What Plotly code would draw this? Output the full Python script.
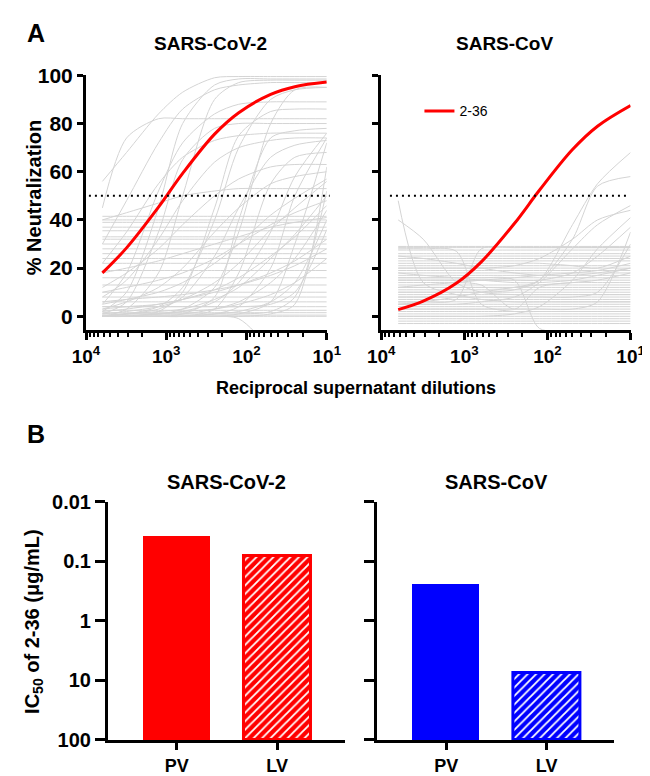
import plotly.graph_objects as go

# ---------------- data ----------------
# dilution points (reciprocal supernatant dilution) at which curve values were read
dilutions = [6250, 3125, 1250, 625, 250, 125, 50, 25, 10]

# 2-36 fitted curve (% neutralization)
red_cov2 = [18, 28.4, 45.3, 59.3, 75.6, 84.5, 92.1, 95.3, 97.2]
red_cov = [2.8, 6.3, 13.7, 22.6, 38.5, 52.3, 69.2, 78.9, 87.5]

# other supernatants (% neutralization), SARS-CoV-2 panel
gray_cov2 = [
    [56, 68, 84, 93, 99, 99.5, 99.5, 99.5, 99.5],
    [2, 10, 45, 80, 96, 98.5, 98.5, 98.5, 98.5],
    [0, 3, 18, 50, 90, 97, 98, 98, 98],
    [30, 48, 72, 86, 94, 96, 97, 97, 97],
    [0, 1, 4, 12, 40, 70, 90, 94, 95],
    [0, 0, 1, 3, 12, 35, 80, 94, 95],
    [45, 74, 82, 82, 82, 82, 82, 82, 82],
    [5, 18, 52, 72, 84, 88, 89, 89, 89],
    [0, 0, 2, 10, 45, 75, 85, 86, 86],
    [1, 6, 35, 65, 78, 80, 80, 80, 80],
    [0, 0, 0, 1, 8, 40, 74, 77, 78],
    [22, 35, 55, 66, 73, 75, 76, 76, 76],
    [8, 15, 32, 48, 64, 70, 73, 74, 74],
    [0, 1, 3, 8, 25, 45, 66, 71, 73],
    [0, 0, 0, 0, 3, 18, 55, 66, 68],
    [12, 18, 28, 38, 50, 57, 62, 63, 63],
    [3, 6, 12, 20, 35, 45, 55, 58, 60],
    [0, 0, 1, 2, 6, 14, 35, 58, 76],
    [0, 0, 0, 0, 1, 4, 20, 50, 74],
    [0, 0, 0, 0, 0, 1, 6, 30, 72],
    [40, 43, 47, 50, 52, 53, 53, 53, 53],
    [1, 2, 4, 7, 14, 22, 36, 45, 56],
    [5, 7, 10, 14, 22, 30, 42, 49, 57],
    [0, 1, 2, 3, 7, 12, 24, 34, 50],
    [10, 12, 15, 18, 24, 30, 38, 43, 48],
    [2, 3, 5, 7, 11, 16, 25, 33, 46],
    [0, 0, 1, 1, 3, 6, 14, 24, 44],
    [0, 0, 0, 0, 1, 2, 6, 14, 40],
    [18, 20, 23, 26, 30, 33, 37, 39, 41],
    [3, 4, 5, 7, 10, 13, 18, 23, 32],
    [0, 0, 0, 0, 0, 0, 1, 5, 62],
    [1, 1, 1, 1, 1, 1, 2, 8, 52],
    [4, 4, 4, 4, 4, 4, 5, 10, 36],
    [6, 7, 8, 9, 11, 13, 17, 21, 28],
    [0, 1, 1, 2, 3, 5, 9, 14, 24],
    [0, 0, 0, 0, 0, -1, -14, -30, -40],
    [41.5] * 9, [40] * 9, [39] * 9, [37] * 9, [35.5] * 9, [33] * 9,
    [32] * 9, [30] * 9, [28] * 9, [26] * 9, [24] * 9, [22] * 9,
    [19] * 9, [16] * 9, [13] * 9, [10] * 9, [8] * 9, [6] * 9,
    [4] * 9, [2.5] * 9, [1.5] * 9, [0.5] * 9, [0] * 9,
]

# other supernatants (% neutralization), SARS-CoV panel
gray_cov = [
    [29] * 9, [28.5] * 9, [27.5] * 9, [26] * 9, [25] * 9, [24] * 9,
    [23] * 9, [21] * 9, [20] * 9, [19] * 9, [18] * 9, [17] * 9,
    [16] * 9, [15] * 9, [13] * 9, [12] * 9, [11] * 9, [10] * 9,
    [9] * 9, [8] * 9, [7] * 9, [6] * 9, [5] * 9, [4] * 9, [3] * 9,
    [2] * 9, [1] * 9, [0] * 9, [-1] * 9, [-2] * 9, [-3] * 9,
    [12, 13, 14, 15, 16, 17, 18, 19, 22],
    [18, 17, 16, 15, 14, 14, 15, 17, 20],
    [5, 6, 8, 10, 12, 13, 14, 15, 18],
    [25, 24, 22, 20, 18, 17, 17, 18, 20],
    [48, 14, 9, 7, 6, 6, 6, 6, 6],
    [40, 32, 14, 10, 9, 9, 9, 9, 9],
    [28, 28, 27, 5, 2, 2, 2, 2, 2],
    [6, 6, 7, 28, 28.5, 28.5, 28.5, 28.5, 28.5],
    [10, 10, 10, 10, 11, 15, 38, 55, 68],
    [12, 12, 12, 12, 12, 15, 32, 54, 58],
    [5, 5, 5, 6, 8, 14, 28, 38, 46],
    [20, 20, 20, 20, 21, 24, 32, 40, 44],
    [0, 0, 0, 0, 1, 4, 15, 28, 41],
    [15, 15, 15, 15, 15, 15, 18, 25, 37],
    [3, 3, 3, 3, 3, 3, 3, 6, 35],
    [8, 8, 8, 8, 8, 8, 8, 10, 30],
    [16, 16, 16, 16, 15, -5, -6, -6, -6],
    [14, 14, 14, 13, 3, 12, 14, 14, 14],
    [22, 22, 22, 22, 22, 22, 21, 20, 25],
]

threshold = 50

x_ticks_A = [1e4, 1e3, 1e2, 1e1]
x_ticktext_A = ["10<sup>4</sup>", "10<sup>3</sup>", "10<sup>2</sup>", "10<sup>1</sup>"]
y_ticks_A = [0, 20, 40, 60, 80, 100]

# Panel B: IC50 of 2-36 (ug/mL)
assays = ["PV", "LV"]
ic50_cov2 = [0.037, 0.081]
ic50_cov = [0.24, 7.6]
y_ticks_B = [0.01, 0.1, 1, 10, 100]
y_ticktext_B = ["0.01", "0.1", "1", "10", "100"]

# ---------------- figure ----------------
W, H = 650, 776
FONT = "Liberation Sans, Arial, sans-serif"
GRAY = "rgb(212,212,212)"
RED = "#FF0000"
BLUE = "#0000FF"


def px(xp):
    return xp / W


def py(yp):
    return 1 - yp / H


fig = go.Figure()

for curve in gray_cov2:
    fig.add_trace(go.Scatter(x=dilutions, y=curve, mode="lines", xaxis="x", yaxis="y",
                             line=dict(color=GRAY, width=1, shape="spline", smoothing=0.8),
                             showlegend=False, hoverinfo="skip"))
for curve in gray_cov:
    fig.add_trace(go.Scatter(x=dilutions, y=curve, mode="lines", xaxis="x2", yaxis="y2",
                             line=dict(color=GRAY, width=1, shape="spline", smoothing=0.8),
                             showlegend=False, hoverinfo="skip"))

fig.add_trace(go.Scatter(x=dilutions, y=red_cov2, mode="lines", xaxis="x", yaxis="y",
                         line=dict(color=RED, width=3, shape="spline"), name="2-36",
                         showlegend=False))
fig.add_trace(go.Scatter(x=dilutions, y=red_cov, mode="lines", xaxis="x2", yaxis="y2",
                         line=dict(color=RED, width=3, shape="spline"), name="2-36",
                         showlegend=True))

# Panel B bars (reversed log axis: bars grow from 100 upward to the IC50)
BASE = 100
for xa, ya, vals, col in (("x3", "y3", ic50_cov2, RED), ("x4", "y4", ic50_cov, BLUE)):
    fig.add_trace(go.Bar(x=[assays[0]], y=[vals[0] - BASE], base=BASE, xaxis=xa, yaxis=ya,
                         width=0.667, marker=dict(color=col, line=dict(width=0)),
                         showlegend=False, hoverinfo="skip"))
    fig.add_trace(go.Bar(x=[assays[1]], y=[vals[1] - BASE], base=BASE, xaxis=xa, yaxis=ya,
                         width=0.667,
                         marker=dict(color=col, line=dict(color=col, width=3),
                                     pattern=dict(shape="/", fgcolor="white", bgcolor=col,
                                                  size=6, solidity=0.3, fillmode="replace")),
                         showlegend=False, hoverinfo="skip"))

tickfont = dict(family=FONT, size=20, color="black", weight="bold")
axis_common = dict(showline=True, linecolor="black", linewidth=3, ticks="outside",
                   tickcolor="black", tickwidth=3, showgrid=False, zeroline=False,
                   tickfont=tickfont)

minor_vals = [k * 10 ** e for e in (1, 2, 3) for k in range(2, 10)]
xA = dict(axis_common, type="log", range=[4, 1], tickmode="array", tickvals=x_ticks_A,
          ticktext=x_ticktext_A, ticklen=7, tickfont=dict(tickfont, size=19),
          minor=dict(tickmode="array", tickvals=minor_vals, ticks="outside", ticklen=4,
                     tickwidth=2, tickcolor="black"))
yA_dom = [py(320), py(57.5)]
yA = dict(axis_common, range=[-5.65, 100.2], tickmode="array", tickvals=y_ticks_A,
          ticklen=6, domain=yA_dom, tickfont=dict(tickfont, size=21))

xB = dict(axis_common, type="category", range=[-0.685, 1.675], ticklen=7,
          tickfont=dict(tickfont, size=18))
yB_dom = [py(742), py(497)]
yB = dict(axis_common, type="log", range=[2, -2], tickmode="array", tickvals=y_ticks_B,
          ticktext=y_ticktext_B, ticklen=10, domain=yB_dom)

fig.update_layout(
    width=W, height=H, autosize=False,
    margin=dict(l=0, r=0, t=0, b=0),
    paper_bgcolor="white", plot_bgcolor="white",
    font=dict(family=FONT, color="black"),
    bargap=0,
    xaxis=dict(xA, domain=[px(67), px(319)], anchor="y"),
    yaxis=dict(yA, anchor="x"),
    xaxis2=dict(xA, domain=[px(376), px(637)], anchor="y2"),
    yaxis2=dict(yA, anchor="x2", showticklabels=False),
    xaxis3=dict(xB, domain=[px(90), px(338)], anchor="y3"),
    yaxis3=dict(yB, anchor="x3"),
    xaxis4=dict(xB, domain=[px(372), px(620)], anchor="y4"),
    yaxis4=dict(yB, anchor="x4", showticklabels=False),
    legend=dict(x=px(416), y=py(95), xanchor="left", yanchor="middle",
                bgcolor="rgba(0,0,0,0)", font=dict(family=FONT, size=14, color="black")),
    shapes=[
        dict(type="line", xref="x domain", yref="y", x0=0.012, x1=1.012, y0=threshold,
             y1=threshold, line=dict(color="black", width=2, dash="2px,4px")),
        dict(type="line", xref="x2 domain", yref="y2", x0=0.035, x1=0.995, y0=threshold,
             y1=threshold, line=dict(color="black", width=2, dash="2px,4px")),
    ],
)

bold = dict(family=FONT, color="black", weight="bold")
annots = [
    dict(text="A", x=px(3), y=py(14), size=25, xanchor="left"),
    dict(text="SARS-CoV-2", x=px(197), y=py(25), size=19),
    dict(text="SARS-CoV", x=px(505), y=py(25), size=19),
    dict(text="% Neutralization", x=px(12), y=py(183), size=20, angle=-90),
    dict(text="Reciprocal supernatant dilutions", x=px(350), y=py(380), size=18),
    dict(text="B", x=px(3), y=py(427), size=25, xanchor="left"),
    dict(text="SARS-CoV-2", x=px(214), y=py(477), size=20),
    dict(text="SARS-CoV", x=px(497), y=py(477), size=20),
    dict(text="IC<sub>50</sub> of 2-36 (μg/mL)", x=px(12), y=py(620), size=20, angle=-90),
]
for a in annots:
    fig.add_annotation(text=a["text"], x=a["x"], y=a["y"], xref="paper", yref="paper",
                       showarrow=False, xanchor=a.get("xanchor", "center"), yanchor="middle",
                       textangle=a.get("angle", 0), font=dict(bold, size=a["size"]))

fig.write_html("out.html")
